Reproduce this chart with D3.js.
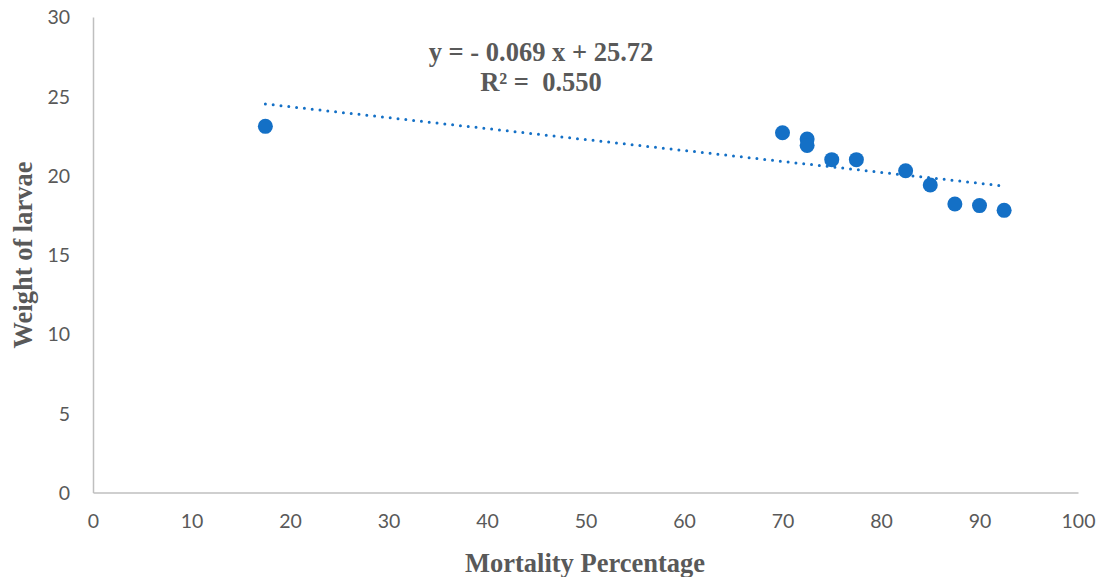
<!DOCTYPE html>
<html><head><meta charset="utf-8">
<script src="https://cdn.jsdelivr.net/npm/d3@7"></script>
<style>body{margin:0;background:#fff}</style>
</head><body>
<svg id="chart" width="1104" height="577"></svg>
<script>
const mortality = [17.5, 70, 72.5, 72.5, 75, 77.5, 82.5, 85, 87.5, 90, 92.5];
const weight    = [23.1, 22.7, 22.3, 21.9, 21.0, 21.0, 20.3, 19.4, 18.2, 18.1, 17.8];
const xTicks = [0,10,20,30,40,50,60,70,80,90,100];
const yTicks = [0,5,10,15,20,25,30];
const slope = -0.069, intercept = 25.72, r2 = "0.550";
const eqLines = ["y = - 0.069 x + 25.72", "R² =  0.550"];

const svg = d3.select("#chart");
const x = d3.scaleLinear().domain([0,100]).range([93,1078]);
const y = d3.scaleLinear().domain([0,30]).range([492.5,17]);
const gray = "#595959", axisCol = "#bfbfbf", blue = "#1470C6";

// axes
const xAx = svg.append("g").attr("transform","translate(0,"+y(0)+")")
  .call(d3.axisBottom(x).tickValues(xTicks).tickSize(0).tickPadding(22));
const yAx = svg.append("g").attr("transform","translate("+x(0)+",0)")
  .call(d3.axisLeft(y).tickValues(yTicks).tickSize(0).tickPadding(23));
[xAx,yAx].forEach(g=>{
  g.select(".domain").attr("stroke",axisCol).attr("stroke-width",1.5);
  g.selectAll("text").attr("fill",gray).style("font-family","Lato, 'Open Sans', sans-serif").style("font-size","19.5px");
});
yAx.selectAll("text").attr("dy","0.35em");

// trend line
const ext = d3.extent(mortality);
svg.append("line")
  .attr("x1",x(ext[0])).attr("y1",y(intercept+slope*ext[0]))
  .attr("x2",x(ext[1])).attr("y2",y(intercept+slope*ext[1]))
  .attr("stroke",blue).attr("stroke-width",3).attr("stroke-linecap","round")
  .attr("stroke-dasharray","0 7.85");

// points
svg.append("g").selectAll("circle").data(mortality.map((m,i)=>[m,weight[i]])).join("circle")
  .attr("cx",d=>x(d[0])).attr("cy",d=>y(d[1])).attr("r",7.5).attr("fill",blue);

// equation
svg.append("g").selectAll("text").data(eqLines).join("text")
  .attr("x",541).attr("y",(d,i)=>61+i*30).attr("text-anchor","middle")
  .style("white-space","pre")
  .attr("fill",gray).style("font-family","'Liberation Serif', 'Times New Roman', serif")
  .style("font-weight","bold").style("font-size","26.5px").text(d=>d);

// axis titles
svg.append("text").attr("x",585).attr("y",572).attr("text-anchor","middle")
  .attr("fill",gray).style("font-family","'Liberation Serif', serif").style("font-weight","bold")
  .style("font-size","26.5px").text("Mortality Percentage");
svg.append("text").attr("transform","translate(32,255) rotate(-90)").attr("text-anchor","middle")
  .attr("fill",gray).style("font-family","'Liberation Serif', serif").style("font-weight","bold")
  .style("font-size","26.5px").text("Weight of larvae");
</script>
</body></html>
